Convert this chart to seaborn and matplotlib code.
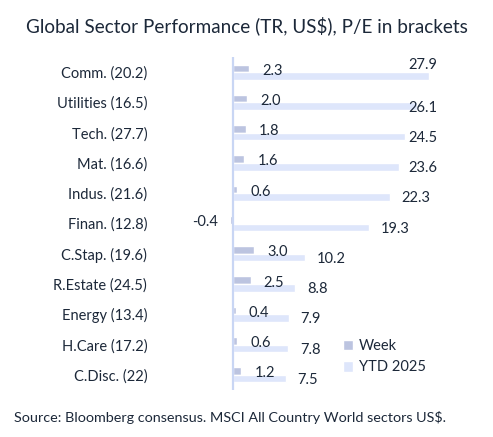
import matplotlib
matplotlib.use("Agg")
import matplotlib.pyplot as plt
import seaborn as sns
import pandas as pd

sectors = ["Comm. (20.2)", "Utilities (16.5)", "Tech. (27.7)", "Mat. (16.6)",
           "Indus. (21.6)", "Finan. (12.8)", "C.Stap. (19.6)", "R.Estate (24.5)",
           "Energy (13.4)", "H.Care (17.2)", "C.Disc. (22)"]
week = [2.3, 2.0, 1.8, 1.6, 0.6, -0.4, 3.0, 2.5, 0.4, 0.6, 1.2]
ytd = [27.9, 26.1, 24.5, 23.6, 22.3, 19.3, 10.2, 8.8, 7.9, 7.8, 7.5]
series_names = ["Week", "YTD 2025"]

df = pd.DataFrame({
    "sector": sectors * 2,
    "value": week + ytd,
    "series": [series_names[0]] * len(sectors) + [series_names[1]] * len(sectors),
})

sns.set_theme(style="white")
plt.rcParams["font.family"] = ["Lato", "DejaVu Sans"]

TXT = "#1c2839"
C_WEEK = "#bcc4e0"
C_YTD = "#dee6fb"
C_AXIS = "#c9d6f4"

fig = plt.figure(figsize=(4.93, 4.37), dpi=100)
W, H = 493, 437
ax = fig.add_axes([150 / W, 1 - 390 / H, (437 - 150) / W, (390 - 57) / H])

sns.barplot(data=df, y="sector", x="value", hue="series", orient="h",
            palette=[C_WEEK, C_YTD], width=0.5, ax=ax, legend=True,
            saturation=1, errorbar=None)

ax.set_xlim(-11.8, 29.0)
ax.set_ylim(len(sectors) - 0.5, -0.5)
ax.axvline(0, color=C_AXIS, lw=1.6, zorder=3)
for s in ax.spines.values():
    s.set_visible(False)
ax.set_xticks([])
ax.set_xlabel("")
ax.set_ylabel("")
ax.tick_params(axis="y", length=0, pad=2, labelsize=10.5, labelcolor=TXT)

fs = 10.5
fig.canvas.draw()
renderer = fig.canvas.get_renderer()
x_right_px = ax.transData.transform((ax.get_xlim()[1], 0))[0]

for i, (w, y) in enumerate(zip(week, ytd)):
    if w >= 0:
        ax.annotate(f"{w:.1f}", (w, i - 0.05), xytext=(9.4, 0), textcoords="offset points",
                    ha="left", va="center", fontsize=fs, color=TXT)
    else:
        ax.annotate(f"{w:.1f}", (w, i - 0.05), xytext=(-8.6, 0), textcoords="offset points",
                    ha="right", va="center", fontsize=fs, color=TXT)
    t = ax.annotate(f"{y:.1f}", (y, i + 0.17), xytext=(8.6, 0), textcoords="offset points",
                    ha="left", va="center", fontsize=fs, color=TXT)
    bb = t.get_window_extent(renderer)
    if bb.x1 > x_right_px:
        bar_end_px = ax.transData.transform((y, 0))[0]
        shift_up = (bar_end_px - (x_right_px - bb.width)) > 10
        t.remove()
        ax.annotate(f"{y:.1f}", (ax.get_xlim()[1], i + (-0.23 if shift_up else 0.17)),
                    ha="right", va="center", fontsize=fs, color=TXT)

leg = ax.legend(loc="center left", bbox_to_anchor=(0.625, 0.10), frameon=False,
                fontsize=fs, handlelength=0.75, handleheight=0.75, handletextpad=0.35,
                labelspacing=0.5, labelcolor=TXT)

fig.text(0.5, 1 - 26 / H, "Global Sector Performance (TR, US$), P/E in brackets",
         ha="center", va="center", fontsize=13.6, color=TXT)
fig.text(14 / W, 1 - 417 / H, "Source: Bloomberg consensus. MSCI All Country World sectors US$.",
         ha="left", va="center", fontsize=10.4, color=TXT)

fig.savefig("out.png", dpi=100, facecolor="white")
